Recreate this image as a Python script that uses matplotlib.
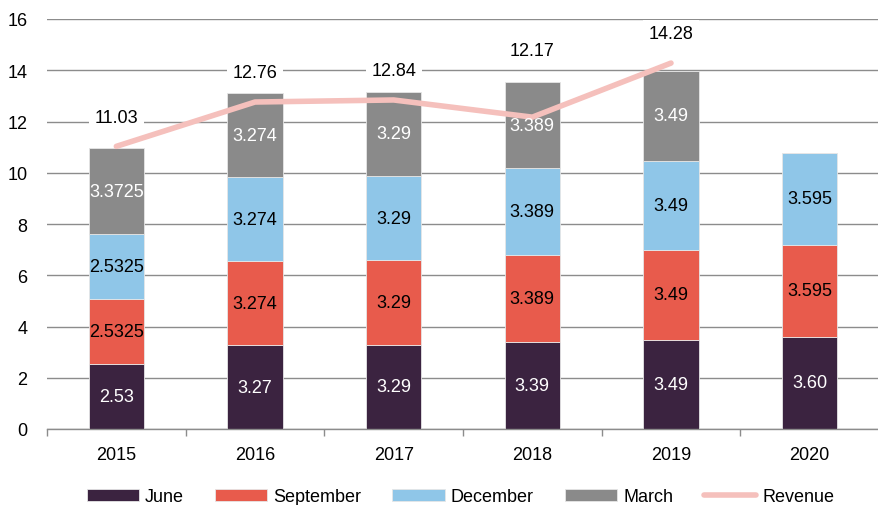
import matplotlib
matplotlib.use("Agg")
import matplotlib.pyplot as plt
import numpy as np

plt.rcParams['font.family'] = ['Liberation Sans', 'DejaVu Sans']

years = ["2015", "2016", "2017", "2018", "2019", "2020"]
june = [2.53, 3.274, 3.29, 3.389, 3.49, 3.595]
june_labels = ["2.53", "3.27", "3.29", "3.39", "3.49", "3.60"]
september = [2.5325, 3.274, 3.29, 3.389, 3.49, 3.595]
december = [2.5325, 3.274, 3.29, 3.389, 3.49, 3.595]
march = [3.3725, 3.274, 3.29, 3.389, 3.49, 0.0]
revenue = [11.03, 12.76, 12.84, 12.17, 14.28]
rev_label_offsets = [21, 21, 21, 48, 21]  # points above each point

colors = {"June": "#3b2340", "September": "#e85b4c", "December": "#8fc6e8",
          "March": "#8a8a8a", "Revenue": "#f5c0bc"}
FS = 13

fig = plt.figure(figsize=(8.79, 5.06), dpi=100)
ax = fig.add_axes([47/879, 76/506, 832/879, 410/506])

x = np.arange(len(years))
w = 0.40
series = [("June", june), ("September", september), ("December", december), ("March", march)]
txtcol = {"June": "white", "September": "black", "December": "black", "March": "white"}
bottom = np.zeros(len(years))
handles = []
for name, vals in series:
    vals = np.array(vals)
    b = ax.bar(x, vals, w, bottom=bottom, color=colors[name], edgecolor="#e6e6e6",
               linewidth=0.6, zorder=2, label=name)
    handles.append(b)
    for i, v in enumerate(vals):
        if v <= 0:
            continue
        if name == "June":
            lab = june_labels[i]
        else:
            lab = f"{v:g}"
        ax.text(x[i], bottom[i] + v / 2, lab, ha="center", va="center",
                color=txtcol[name], fontsize=FS, zorder=4)
    bottom = bottom + vals

rx = x[:len(revenue)]
line, = ax.plot(rx, revenue, color=colors["Revenue"], lw=4, zorder=3,
                solid_capstyle="round", label="Revenue")
for xi, v, off in zip(rx, revenue, rev_label_offsets):
    ax.annotate(f"{v:.2f}", (xi, v), xytext=(0, off), textcoords="offset points",
                ha="center", va="center", fontsize=FS, color="black", zorder=5,
                bbox=dict(boxstyle="square,pad=0.3", fc="white", ec="none"))

ax.set_ylim(0, 16)
ax.set_xlim(-0.5, (879 - 117) / 140.4)
ax.set_yticks(np.arange(0, 17, 2))
ax.yaxis.grid(True, color="#8c8c8c", lw=1.0, zorder=0)
ax.set_axisbelow(True)
for s in ["top", "right", "left"]:
    ax.spines[s].set_visible(False)
ax.spines["bottom"].set_color("#8c8c8c")
ax.spines["bottom"].set_linewidth(1.0)
ax.tick_params(axis="y", length=0, labelsize=FS, pad=14)
ax.set_xticks(x)
ax.set_xticklabels(years, fontsize=FS)
ax.tick_params(axis="x", which="major", length=0, pad=12)
ax.set_xticks(np.arange(-0.5, 5.6, 1.0), minor=True)
ax.tick_params(axis="x", which="minor", length=5, color="#8c8c8c", width=1.0)

fig.legend(handles + [line], ["June", "September", "December", "March", "Revenue"],
           loc="center", bbox_to_anchor=(0.524, 0.016), ncol=5, frameon=False,
           fontsize=FS, handlelength=2.9, handleheight=0.6, columnspacing=1.7,
           handletextpad=0.35)

fig.savefig("out.png", dpi=100)
